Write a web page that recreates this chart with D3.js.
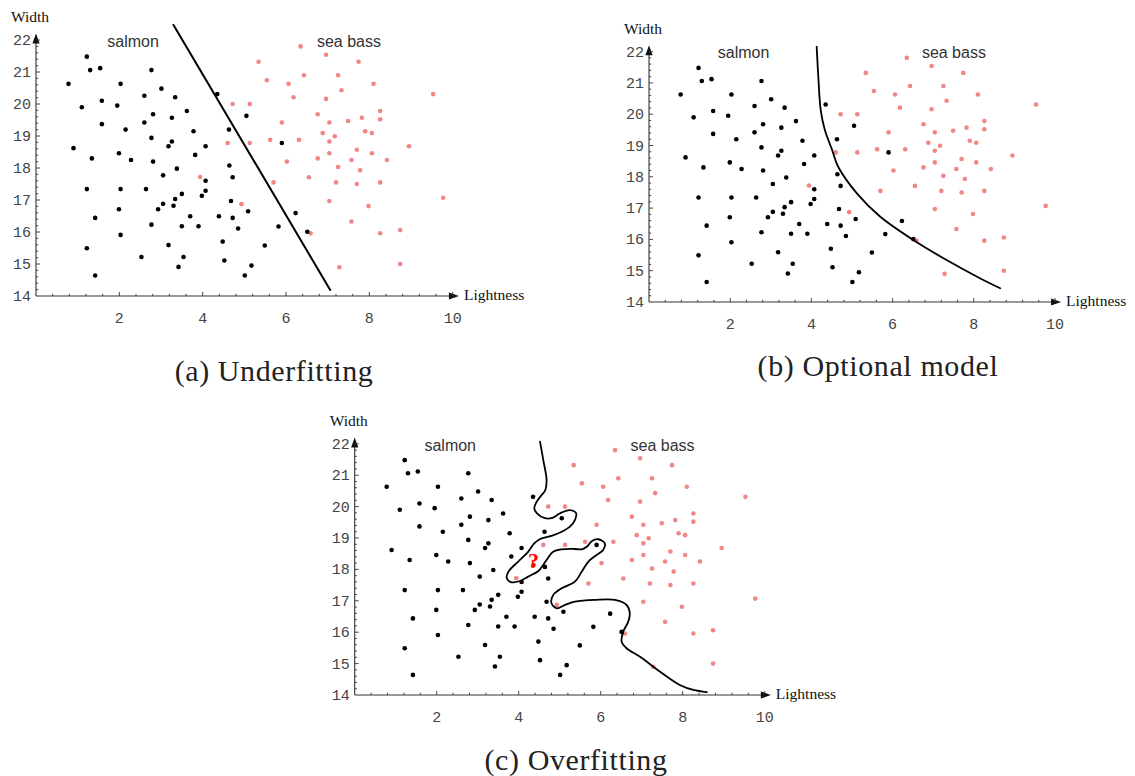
<!DOCTYPE html>
<html>
<head>
<meta charset="utf-8">
<script src="https://cdn.jsdelivr.net/npm/d3@7"></script>
<style>
  html, body { margin: 0; padding: 0; background: #fff; }
  svg { display: block; }
</style>
</head>
<body>
<svg id="chart" width="1135" height="776"></svg>
<script>
// Salmon samples: [lightness, width]
const salmon = [
  [1.22,21.48],[1.30,21.06],[1.54,21.12],[2.77,21.06],[0.78,20.63],[2.03,20.63],
  [3.01,20.48],[2.60,20.26],[3.34,20.21],[4.35,20.31],[1.10,19.90],[1.58,20.10],
  [1.95,19.95],[2.81,19.68],[3.62,19.78],[3.26,19.57],[2.60,19.42],[1.58,19.37],
  [2.15,19.20],[3.78,19.15],[4.63,19.20],[2.77,18.94],[3.26,18.83],[3.18,18.68],
  [4.07,18.68],[0.90,18.62],[1.34,18.30],[1.99,18.46],[2.28,18.25],[2.81,18.20],
  [3.82,18.41],[5.05,19.63],[5.90,18.78],[4.64,18.08],[3.38,17.98],[3.05,17.77],
  [4.07,17.60],[4.07,17.29],[3.98,17.13],[3.50,17.19],[3.34,17.03],[3.30,16.82],
  [3.05,16.88],[2.93,16.71],[1.22,17.34],[2.03,17.34],[2.64,17.34],[1.99,16.71],
  [1.42,16.44],[3.70,16.49],[4.39,16.49],[2.77,16.23],[3.50,16.18],[3.90,16.18],
  [2.03,15.91],[4.48,15.70],[1.22,15.49],[3.18,15.59],[2.53,15.22],[3.54,15.22],
  [4.52,15.11],[3.42,14.91],[1.42,14.64],[4.72,17.71],[4.68,16.97],[5.09,16.65],
  [4.72,16.44],[4.85,16.11],[5.49,15.58],[5.17,14.95],[5.01,14.64],[5.82,16.17],
  [6.23,16.59],[6.51,16.01]
];

// Sea bass samples: [lightness, width]
const seaBass = [
  [6.35,21.80],[6.96,21.54],[7.74,21.32],[5.34,21.32],[5.54,20.74],[6.06,20.63],
  [6.43,20.90],[7.25,20.90],[8.10,20.63],[7.33,20.43],[6.18,20.21],[6.96,20.16],
  [9.53,20.31],[4.72,20.00],[5.13,20.00],[6.76,19.68],[8.26,19.78],[5.90,19.42],
  [7.04,19.42],[7.49,19.47],[7.82,19.57],[8.26,19.52],[7.90,19.15],[8.06,19.09],
  [6.88,19.09],[7.17,18.99],[7.04,18.83],[4.60,18.78],[5.13,18.78],[5.62,18.88],
  [6.31,18.88],[8.95,18.68],[7.70,18.57],[7.04,18.46],[8.06,18.46],[6.02,18.20],
  [6.76,18.30],[7.57,18.25],[8.42,18.25],[3.94,17.72],[4.93,16.87],[6.59,15.96],
  [7.28,14.90],[8.74,15.00],[8.74,16.06],[8.26,15.96],[7.57,16.33],[7.98,16.81],
  [7.04,16.97],[9.77,17.07],[5.70,17.55],[6.55,17.71],[7.20,17.55],[7.70,17.50],
  [8.26,17.55],[7.25,18.03],[7.78,17.93]
];

// New sample of unknown class
const queryPoint = [4.36, 18.14];

const xTickValues = [2, 4, 6, 8, 10];
const yTickValues = [14, 15, 16, 17, 18, 19, 20, 21, 22];

// Decision boundaries
const linearBoundary = [[3.30,22.47],[7.06,14.19]];
const smoothBoundary = [
  [4.13,22.16],[4.17,21.20],[4.23,20.13],[4.33,19.50],[4.51,18.86],[4.66,18.32],
  [5.12,17.47],[5.69,16.73],[6.51,15.98],[7.33,15.34],[8.15,14.76],[8.65,14.44]
];
const wigglyBoundary = [
  [4.52,22.07],[4.60,21.48],[4.68,20.85],[4.65,20.53],[4.56,20.37],[4.44,20.16],
  [4.38,19.95],[4.44,19.79],[4.64,19.63],[4.84,19.65],[5.01,19.79],[5.25,19.89],
  [5.40,19.79],[5.37,19.57],[5.25,19.36],[5.05,19.20],[4.80,19.07],[4.52,18.97],
  [4.38,18.83],[4.23,18.56],[3.99,18.25],[3.75,17.93],[3.71,17.72],[3.83,17.59],
  [4.03,17.63],[4.23,17.77],[4.48,17.95],[4.68,18.30],[4.84,18.56],[5.05,18.64],
  [5.37,18.65],[5.54,18.64],[5.66,18.72],[5.78,18.90],[5.94,18.96],[6.10,18.83],
  [6.06,18.62],[5.90,18.46],[5.70,18.25],[5.54,17.93],[5.37,17.61],[5.05,17.40],
  [4.84,17.18],[4.80,16.92],[4.93,16.76],[5.13,16.87],[5.37,16.97],[5.86,17.03],
  [6.35,17.03],[6.63,16.87],[6.71,16.60],[6.67,16.33],[6.55,16.02],[6.51,15.70],
  [6.63,15.49],[6.96,15.22],[7.45,14.74],[7.93,14.32],[8.26,14.16],[8.59,14.09]
];

const captions = ["(a) Underfitting", "(b) Optional model", "(c) Overfitting"];

const panels = [
  { x0: 36,    kx: 41.67, y0: 296, ky: 32.0, boundary: linearBoundary, curve: d3.curveLinear,
    caption: captions[0], cx: 274, cy: 381, query: false, lw: 2 },
  { x0: 649,   kx: 40.6,  y0: 302, ky: 31.3, boundary: smoothBoundary, curve: d3.curveCatmullRom.alpha(0.5),
    caption: captions[1], cx: 878, cy: 376, query: false, lw: 1.8 },
  { x0: 354.7, kx: 41.0,  y0: 695, ky: 31.4, boundary: wigglyBoundary, curve: d3.curveCatmullRom.alpha(0.5),
    caption: captions[2], cx: 576, cy: 770, query: true, lw: 1.8 }
];

const svg = d3.select("#chart");
const axisColor = "#333";

panels.forEach(p => {
  const x = d3.scaleLinear().domain([0, 10]).range([p.x0, p.x0 + 10 * p.kx]);
  const y = d3.scaleLinear().domain([14, 22]).range([p.y0, p.y0 - 8 * p.ky]);
  const g = svg.append("g");

  // x axis with arrow
  const xEnd = x(10.15);
  g.append("line").attr("x1", x(0)).attr("x2", xEnd - 6).attr("y1", y(14)).attr("y2", y(14))
    .attr("stroke", axisColor).attr("stroke-width", 1.1);
  g.append("path")
    .attr("d", `M${xEnd},${y(14)} L${xEnd - 10},${y(14) - 3.6} L${xEnd - 10},${y(14) + 3.6} Z`)
    .attr("fill", "#111");

  // y axis with arrow
  const yEnd = y(22.2);
  g.append("line").attr("x1", x(0)).attr("x2", x(0)).attr("y1", y(14)).attr("y2", yEnd + 6)
    .attr("stroke", axisColor).attr("stroke-width", 1.1);
  g.append("path")
    .attr("d", `M${x(0)},${yEnd} L${x(0) - 3.6},${yEnd + 10} L${x(0) + 3.6},${yEnd + 10} Z`)
    .attr("fill", "#111");

  // minor/major ticks on x (every 0.4)
  const xt = d3.range(1, 26).map(i => +(i * 0.4).toFixed(1));
  g.selectAll(".xt").data(xt).join("line")
    .attr("x1", d => x(d)).attr("x2", d => x(d))
    .attr("y1", y(14)).attr("y2", d => y(14) - (xTickValues.includes(d) ? 4 : 2.2))
    .attr("stroke", axisColor).attr("stroke-width", 0.9);

  // minor/major ticks on y (every 0.2)
  const yt = d3.range(1, 41).map(i => +(14 + i * 0.2).toFixed(1));
  g.selectAll(".yt").data(yt).join("line")
    .attr("x1", x(0)).attr("x2", d => x(0) + (Number.isInteger(d) ? 4 : 2.2))
    .attr("y1", d => y(d)).attr("y2", d => y(d))
    .attr("stroke", axisColor).attr("stroke-width", 0.9);

  // tick labels
  g.selectAll(".xl").data(xTickValues).join("text")
    .attr("x", d => x(d)).attr("y", y(14) + 27)
    .attr("text-anchor", "middle")
    .attr("font-family", "'Liberation Mono', 'DejaVu Sans Mono', monospace")
    .attr("font-size", 15).attr("fill", "#444")
    .text(d => d);
  g.selectAll(".yl").data(yTickValues).join("text")
    .attr("x", x(0) - 5).attr("y", d => y(d) + 5)
    .attr("text-anchor", "end")
    .attr("font-family", "'Liberation Mono', 'DejaVu Sans Mono', monospace")
    .attr("font-size", 15).attr("fill", "#444")
    .text(d => d);

  // axis titles
  g.append("text").attr("x", x(0) - 25).attr("y", y(22) - 18)
    .attr("font-family", "'Liberation Serif', serif").attr("font-size", 15.5).attr("fill", "#111")
    .text("Width");
  g.append("text").attr("x", xEnd + 5).attr("y", y(14) + 4)
    .attr("font-family", "'Liberation Serif', serif").attr("font-size", 15.5).attr("fill", "#111")
    .text("Lightness");

  // class labels
  g.append("text").attr("x", x(2.33)).attr("y", y(21.78))
    .attr("text-anchor", "middle")
    .attr("font-family", "'Liberation Sans', Arial, sans-serif").attr("font-size", 16).attr("fill", "#333")
    .text("salmon");
  g.append("text").attr("x", x(7.51)).attr("y", y(21.78))
    .attr("text-anchor", "middle")
    .attr("font-family", "'Liberation Sans', Arial, sans-serif").attr("font-size", 16).attr("fill", "#333")
    .text("sea bass");

  // samples
  g.selectAll(".sb").data(seaBass).join("circle")
    .attr("cx", d => x(d[0])).attr("cy", d => y(d[1])).attr("r", 2.3)
    .attr("fill", "#f28585");
  g.selectAll(".sa").data(salmon).join("circle")
    .attr("cx", d => x(d[0])).attr("cy", d => y(d[1])).attr("r", 2.3)
    .attr("fill", "#000");

  // decision boundary
  const line = d3.line().x(d => x(d[0])).y(d => y(d[1])).curve(p.curve);
  g.append("path").attr("d", line(p.boundary))
    .attr("fill", "none").attr("stroke", "#000").attr("stroke-width", p.lw)
    .attr("stroke-linejoin", "round").attr("stroke-linecap", "round");

  // unknown sample
  if (p.query) {
    g.append("circle").attr("cx", x(queryPoint[0])).attr("cy", y(queryPoint[1])).attr("r", 2.3)
      .attr("fill", "#ff0000");
    g.append("text").attr("x", x(queryPoint[0])).attr("y", y(queryPoint[1]) + 2.5)
      .attr("text-anchor", "middle")
      .attr("font-family", "'Liberation Serif', serif").attr("font-weight", "bold")
      .attr("font-size", 22).attr("fill", "#ff0000")
      .text("?");
  }

  // caption
  g.append("text").attr("x", p.cx).attr("y", p.cy)
    .attr("text-anchor", "middle")
    .attr("font-family", "'Liberation Serif', serif").attr("font-size", 30)
    .attr("letter-spacing", 0.6).attr("fill", "#222")
    .text(p.caption);
});
</script>
</body>
</html>
